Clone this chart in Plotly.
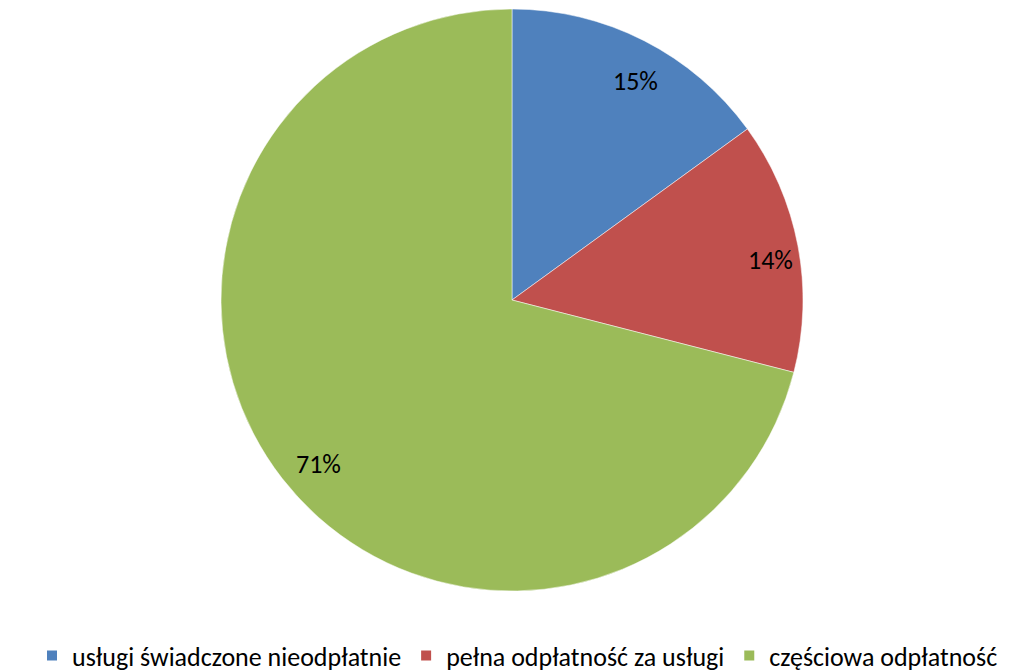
import math
import plotly.graph_objects as go

# data
labels = ["usługi świadczone nieodpłatnie", "pełna odpłatność za usługi", "częściowa odpłatność"]
shares = [15, 14, 71]
colors = ["#4F81BD", "#C0504D", "#9BBB59"]

W, H = 1019, 671
# pie placement in pixels (centre and radius)
cx, cy, R = 504, 292, 291

fig = go.Figure()
fig.add_trace(go.Pie(
    labels=labels,
    values=shares,
    sort=False,
    direction="clockwise",
    rotation=0,
    marker=dict(colors=colors, line=dict(color="white", width=0.5)),
    textinfo="none",
    domain=dict(x=[(cx - R) / W, (cx + R) / W], y=[1 - (cy + R) / H, 1 - (cy - R) / H]),
    hoverinfo="label+percent",
))

# excel-style labels near the rim, at each slice's mid angle
total = sum(shares)
acc = 0
for s in shares:
    mid = (acc + s / 2) / total * 2 * math.pi
    acc += s
    px = 512 + 0.875 * R * math.sin(mid)
    py = 300 - 0.875 * R * math.cos(mid)
    fig.add_annotation(x=px / W, y=1 - py / H, xref="paper", yref="paper",
                       xanchor="center", yanchor="middle",
                       text=f"{round(s / total * 100)}%", showarrow=False,
                       font=dict(size=26, color="black"))

fig.update_layout(
    width=W, height=H,
    margin=dict(l=0, r=0, t=0, b=0),
    paper_bgcolor="white",
    font=dict(family="Carlito, Calibri, Lato, sans-serif", size=20, color="black"),
    showlegend=True,
    legend=dict(orientation="h", x=0.5, xanchor="center", y=0, yanchor="bottom",
                font=dict(size=26), itemsizing="constant"),
)

fig.write_html("out.html")
